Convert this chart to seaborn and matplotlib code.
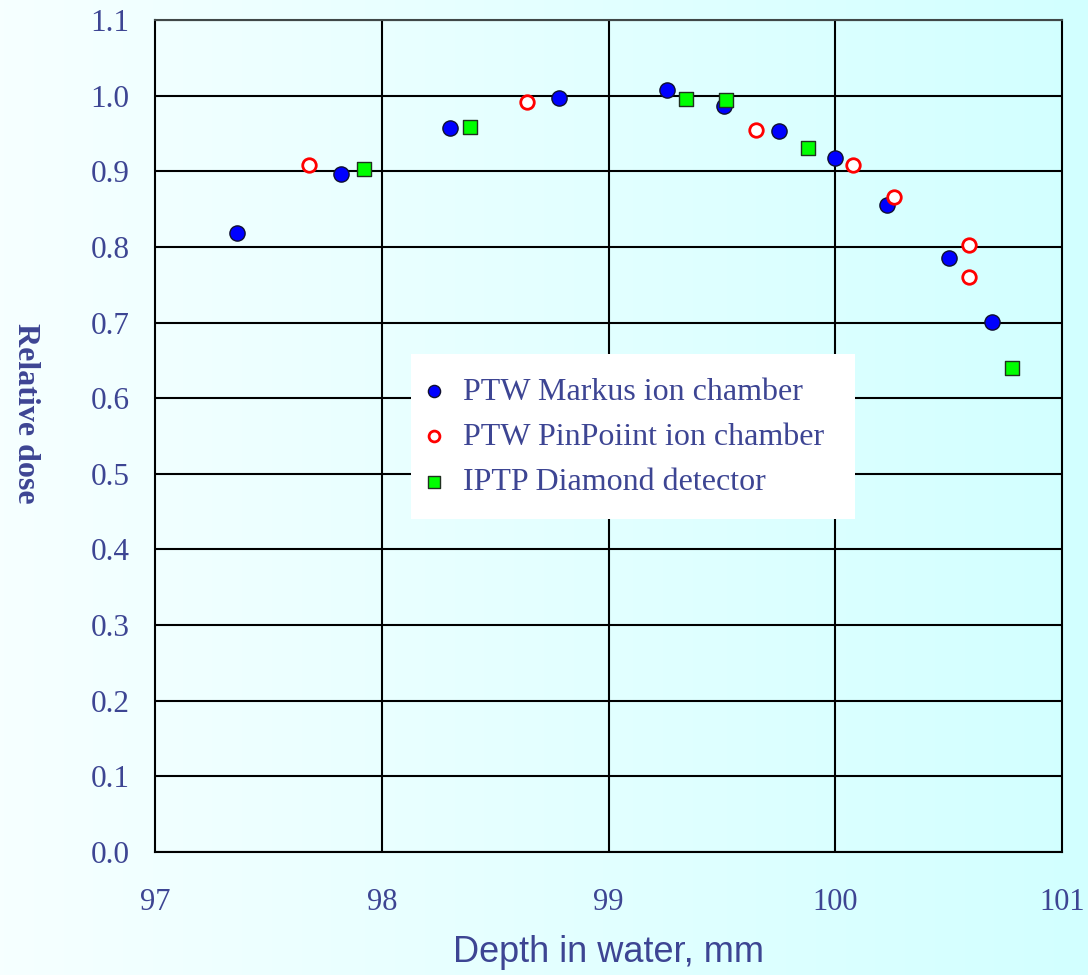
import numpy as np
import pandas as pd
import matplotlib
matplotlib.use("Agg")
import matplotlib.pyplot as plt
import seaborn as sns
from matplotlib.colors import LinearSegmentedColormap
from matplotlib.patches import Rectangle

# ---- data ----
markus_x = [97.36, 97.82, 98.30, 98.78, 99.26, 99.51, 99.75, 100.00, 100.23, 100.50, 100.69]
markus_y = [0.818, 0.896, 0.957, 0.997, 1.007, 0.986, 0.953, 0.917, 0.855, 0.785, 0.701]

pinpoint_x = [97.68, 98.64, 99.65, 100.08, 100.26, 100.59, 100.59]
pinpoint_y = [0.908, 0.992, 0.955, 0.908, 0.866, 0.802, 0.760]

diamond_x = [97.92, 98.39, 99.34, 99.52, 99.88, 100.78]
diamond_y = [0.903, 0.958, 0.996, 0.994, 0.931, 0.640]

series_names = ["PTW Markus ion chamber", "PTW PinPoiint ion chamber", "IPTP Diamond detector"]
x_ticks = [97, 98, 99, 100, 101]
y_ticks = [0.0, 0.1, 0.2, 0.3, 0.4, 0.5, 0.6, 0.7, 0.8, 0.9, 1.0, 1.1]
x_label = "Depth in water, mm"
y_label = "Relative dose"

sns.set_theme(style="white")
plt.rcParams['font.family'] = ['Liberation Serif', 'DejaVu Serif']

text_color = "#3D4593"

fig = plt.figure(figsize=(10.88, 9.75), dpi=100)

# background gradient
bg = fig.add_axes([0, 0, 1, 1], zorder=-10)
grad = np.linspace(0, 1, 256).reshape(1, -1)
cmap = LinearSegmentedColormap.from_list("bg", ["#F6FFFF", "#D2FFFF"])
bg.imshow(grad, aspect="auto", cmap=cmap, extent=[0, 1, 0, 1])
bg.set_axis_off()

ax = fig.add_axes([155/1088, 123/975, 907/1088, 832/975])
ax.patch.set_alpha(0)

df_m = pd.DataFrame({"x": markus_x, "y": markus_y})
df_p = pd.DataFrame({"x": pinpoint_x, "y": pinpoint_y})
df_d = pd.DataFrame({"x": diamond_x, "y": diamond_y})

sns.scatterplot(data=df_m, x="x", y="y", ax=ax, marker="o", s=120,
                color="#0000FF", edgecolor="#101030", linewidth=1.0,
                label=series_names[0], zorder=5)
sns.scatterplot(data=df_p, x="x", y="y", ax=ax, marker="o", s=95,
                facecolor="white", edgecolor="#FF0000", linewidth=2.0,
                label=series_names[1], zorder=5)
sns.scatterplot(data=df_d, x="x", y="y", ax=ax, marker="s", s=110,
                color="#00FF00", edgecolor="#203020", linewidth=1.0,
                label=series_names[2], zorder=6)

ax.set_xlim(97, 101)
ax.set_ylim(0, 1.1)
ax.set_xticks(x_ticks)
ax.set_xticklabels([str(v) for v in x_ticks])
ax.set_yticks(y_ticks)
ax.set_yticklabels([f"{v:.1f}" for v in y_ticks])

ax.grid(True, axis="y", color="black", linewidth=1.5)
ax.set_axisbelow(True)
for xv in x_ticks[1:-1]:
    ax.axvline(xv, color="black", linewidth=1.5, zorder=1)
for sp in ax.spines.values():
    sp.set_visible(True)
    sp.set_color("black")
    sp.set_linewidth(1.5)
ax.spines["top"].set_color("#404848")

ax.tick_params(axis="both", length=0, colors=text_color)
ax.tick_params(axis="y", pad=18.5, labelsize=22.5)
ax.tick_params(axis="x", pad=26, labelsize=22)

ax.set_xlabel(x_label, fontsize=26, color=text_color,
              family=['Liberation Sans', 'DejaVu Sans'], labelpad=13)
ax.set_ylabel("")
fig.text(25/1088, 1 - 413/975, y_label, rotation=-90, fontsize=23, fontweight="bold",
         color=text_color, ha="center", va="center")

# white legend box
box = Rectangle((0.2823, 0.4002), 0.7718 - 0.2823, 0.5986 - 0.4002,
                transform=ax.transAxes, facecolor="white", edgecolor="none", zorder=9)
ax.add_patch(box)

leg = ax.legend(loc="upper left", bbox_to_anchor=(0.2823, 0.588), frameon=False,
                fontsize=23, handletextpad=0.635, borderpad=0.45, labelspacing=0.5,
                handlelength=0.54, borderaxespad=0, markerscale=0.8)
for t in leg.get_texts():
    t.set_color(text_color)
leg.set_zorder(10)

fig.savefig("out.png", dpi=100)
